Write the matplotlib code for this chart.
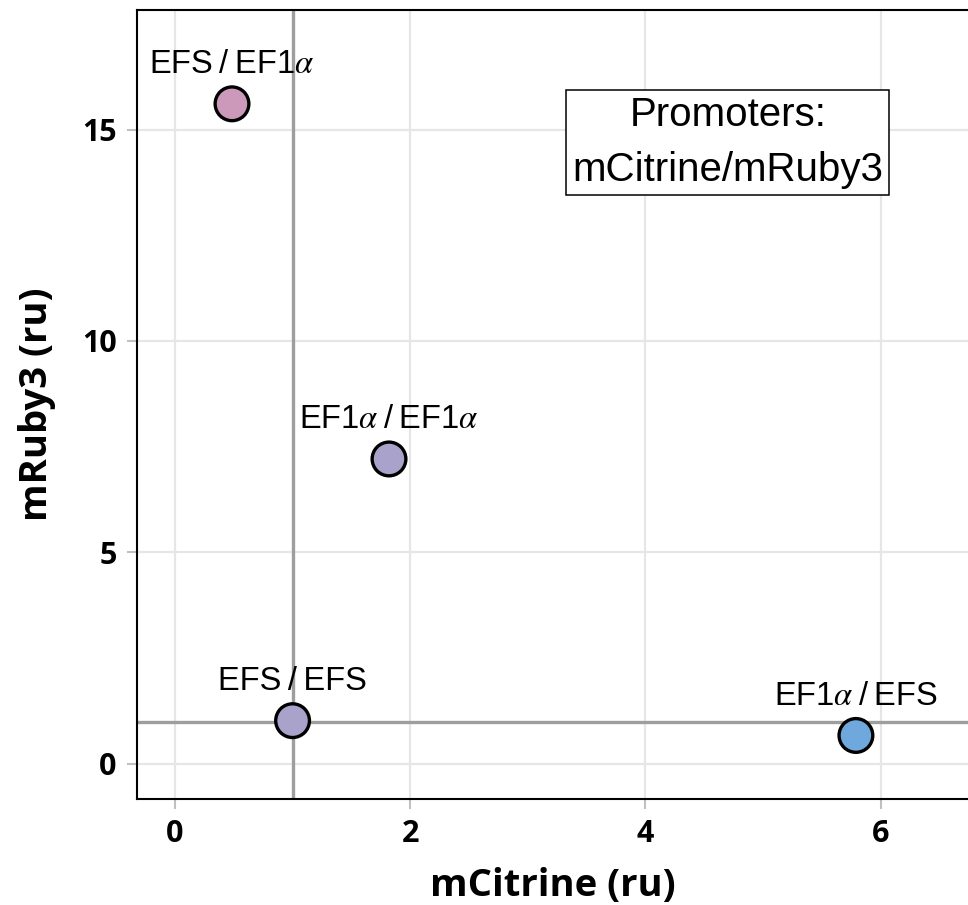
import matplotlib
matplotlib.use('Agg')
import matplotlib.pyplot as plt

plt.rcParams['mathtext.fontset'] = 'stix'

# data
labels = ['EFS\u2009/\u2009EF1$\\alpha$', 'EF1$\\alpha$\u2009/\u2009EF1$\\alpha$',
          'EFS\u2009/\u2009EFS', 'EF1$\\alpha$\u2009/\u2009EFS']
mcitrine = [0.485, 1.82, 1.0, 5.79]
mruby = [15.61, 7.21, 1.02, 0.67]
colors = ['#cc99bb', '#a9a3cc', '#a9a3cc', '#6fa8dc']
xticks = [0, 2, 4, 6]
yticks = [0, 5, 10, 15]

fig = plt.figure(figsize=(9.68, 9.05), dpi=100)
ax = fig.add_axes([0.1415, 0.1168, 0.8585, 0.8722])

ax.set_xlim(-0.323, 6.743)
ax.set_ylim(-0.84, 17.83)

ax.set_xticks(xticks)
ax.set_yticks(yticks)
ax.grid(True, color='#e6e6e6', linewidth=1.6, zorder=0)
ax.set_axisbelow(True)

# reference lines at 1
ax.axvline(1, color='#9e9e9e', linewidth=2.4, zorder=1)
ax.axhline(1, color='#9e9e9e', linewidth=2.4, zorder=1)

ax.scatter(mcitrine, mruby, s=590, c=colors, edgecolors='black',
           linewidths=2.4, zorder=3)

for lab, x, y in zip(labels, mcitrine, mruby):
    ax.annotate(lab, (x, y), xytext=(0, 22), textcoords='offset points',
                ha='center', va='baseline', fontsize=23.5,
                family='Liberation Sans', zorder=4)

ax.text(4.70, 14.70, 'Promoters:\nmCitrine/mRuby3', ha='center', va='center',
        fontsize=29, family='Liberation Sans', linespacing=1.55,
        bbox=dict(boxstyle='square,pad=0.15', facecolor='white',
                  edgecolor='black', linewidth=1.1), zorder=5)

for side in ['left', 'top', 'bottom']:
    ax.spines[side].set_linewidth(1.5)
ax.spines['right'].set_visible(False)

ax.tick_params(axis='both', length=7.5, width=1.5, color='#c0c0c0', pad=7)
for t in ax.get_xticklabels() + ax.get_yticklabels():
    t.set_fontfamily('Open Sans')
    t.set_fontweight('bold')
    t.set_fontsize(22)

ax.set_xlabel('mCitrine (ru)', fontsize=27.5, fontweight='bold',
              family='Open Sans', labelpad=13)
ax.set_ylabel('mRuby3 (ru)', fontsize=27.5, fontweight='bold',
              family='Open Sans', labelpad=18.5)

plt.savefig('out.png', dpi=100)
